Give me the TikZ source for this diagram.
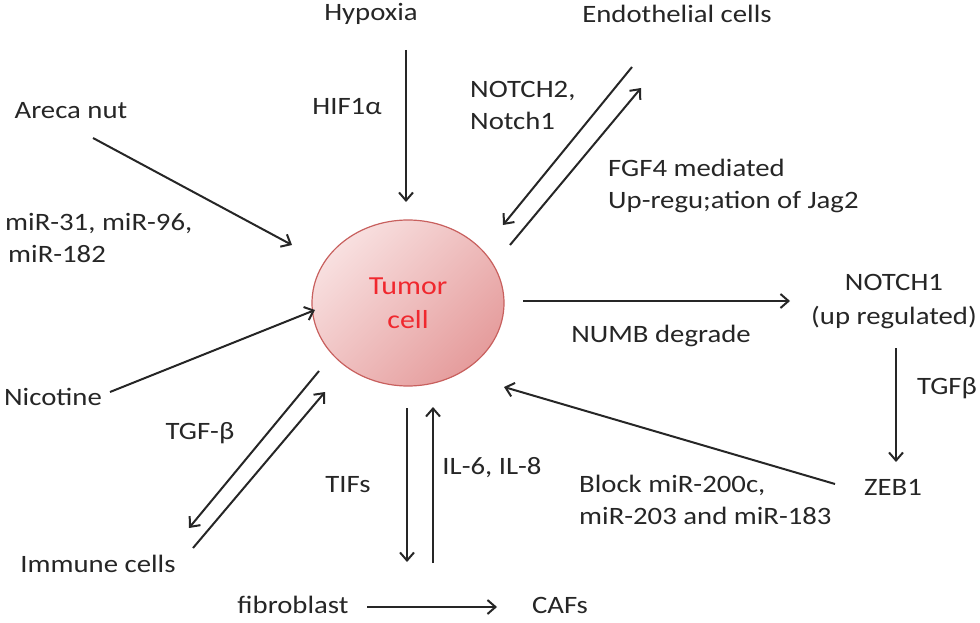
\documentclass[tikz,border=0pt]{standalone}
\usepackage{fontspec}
\setmainfont[FakeStretch=1.15]{Carlito}
\usetikzlibrary{arrows.meta,shapes.geometric}
\definecolor{txt}{HTML}{262626}
\definecolor{cellA}{HTML}{F8E0E0}
\definecolor{cellB}{HTML}{E59C9C}
\definecolor{cellD}{HTML}{C8605E}
\definecolor{tumred}{HTML}{F0282E}
\begin{document}
\begin{tikzpicture}[x=1pt,y=-1pt,
  lbl/.style={font=\fontsize{25}{32}\selectfont, text=txt, inner sep=0pt},
  arr/.style={draw=black!85, line width=2pt, -{Straight Barb[length=8pt,width=14pt,line width=2pt]}}]
\useasboundingbox (0,0) rectangle (980,623);
% central cell
\node[ellipse, draw=cellD, line width=1.2pt, minimum width=192pt, minimum height=166pt,
  top color=cellA, bottom color=cellB, shading angle=45,
  text=tumred, align=center, font=\fontsize{26}{34}\selectfont] (tumor) at (408,303) {Tumor\\cell};
% labels
\node[lbl] (hyp) at (371,14) {Hypoxia};
\node[lbl] (endo) at (677,14) {Endothelial cells};
\node[lbl] (areca) at (71,111) {Areca nut};
\node[lbl] (hif) at (347,107) {HIF1α};
\node[lbl, align=left, anchor=west] (notch2) at (470,105) {NOTCH2,\\Notch1};
\node[lbl, align=left, anchor=west] (fgf) at (608,186) {FGF4 mediated\\Up-regu;ation of Jag2};
\node[lbl, align=left, anchor=west] (mir) at (5,238) {miR-31, miR-96,\\\hspace{3pt}miR-182};
\node[lbl, align=center, font=\fontsize{25}{34}\selectfont] (notch1) at (894,302) {NOTCH1\\(up regulated)};
\node[lbl] (numb) at (661,336) {NUMB degrade};
\node[lbl] (nic) at (53,397) {Nicotine};
\node[lbl] (tgfb) at (200,433) {TGF-β};
\node[lbl] (tgfb2) at (947,388) {TGFβ};
\node[lbl] (tifs) at (348,485) {TIFs};
\node[lbl] (il) at (492,468) {IL-6, IL-8};
\node[lbl, align=left, anchor=west] (block) at (579,500) {Block miR-200c,\\miR-203 and miR-183};
\node[lbl] (zeb) at (893,487) {ZEB1};
\node[lbl] (imm) at (98,564) {Immune cells};
\node[lbl] (fib) at (293,605) {fibroblast};
\node[lbl] (cafs) at (560,605) {CAFs};
% connector end points
\coordinate (hypS) at (406,50);   \coordinate (hypE) at (406,202);
\coordinate (arS) at (93,138);    \coordinate (arE) at (292,245);
\coordinate (enS) at (632,67);    \coordinate (enE) at (503,225);
\coordinate (tuS) at (510,245);   \coordinate (tuE) at (641,88);
\coordinate (nuS) at (523,301);   \coordinate (nuE) at (790,301);
\coordinate (noS) at (896,348);   \coordinate (noE) at (896,462);
\coordinate (zeS) at (835,484);   \coordinate (zeE) at (504,387);
\coordinate (niS) at (110,392);   \coordinate (niE) at (315,310);
\coordinate (imS) at (319,371);   \coordinate (imE) at (189,528);
\coordinate (iuS) at (193,548);   \coordinate (iuE) at (325,392);
\coordinate (tiS) at (407,408);   \coordinate (tiE) at (407,562);
\coordinate (ilS) at (433,563);   \coordinate (ilE) at (433,407);
\coordinate (fbS) at (367,607);   \coordinate (fbE) at (497,607);
% connectors
\draw[arr] (hypS) -- (hypE);
\draw[arr] (arS) -- (arE);
\draw[arr] (enS) -- (enE);
\draw[arr] (tuS) -- (tuE);
\draw[arr] (nuS) -- (nuE);
\draw[arr] (noS) -- (noE);
\draw[arr] (zeS) -- (zeE);
\draw[arr] (niS) -- (niE);
\draw[arr] (imS) -- (imE);
\draw[arr] (iuS) -- (iuE);
\draw[arr] (tiS) -- (tiE);
\draw[arr] (ilS) -- (ilE);
\draw[arr] (fbS) -- (fbE);
\end{tikzpicture}
\end{document}
